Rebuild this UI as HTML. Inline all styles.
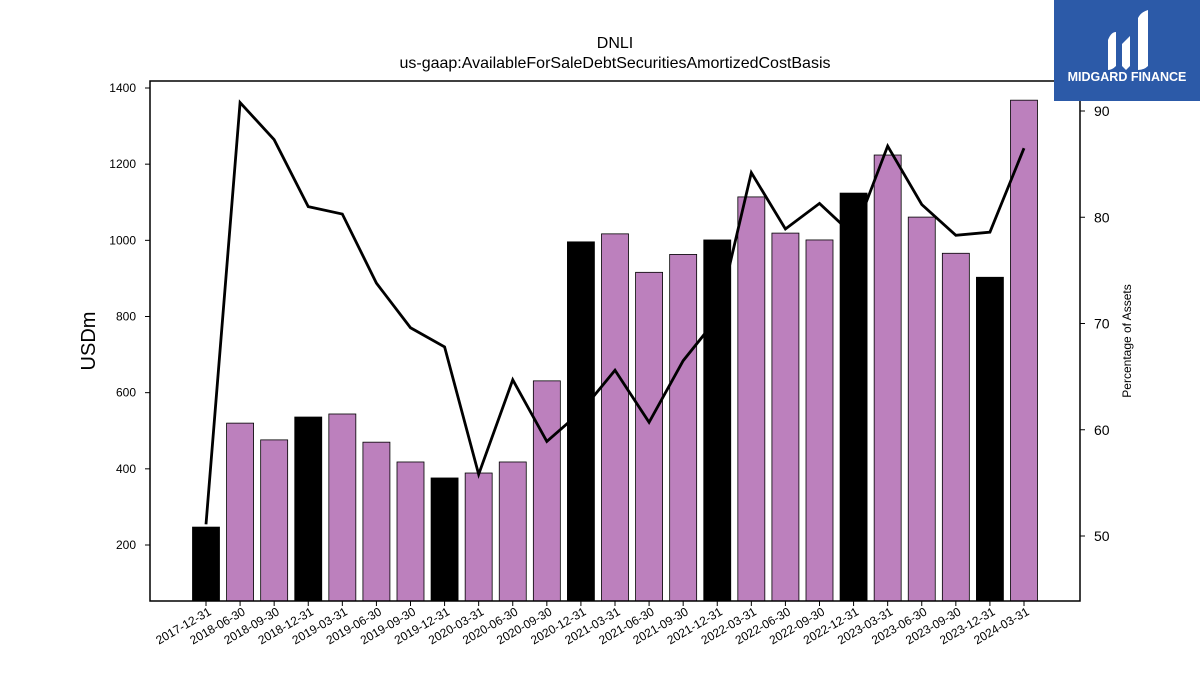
<!DOCTYPE html>
<html><head><meta charset="utf-8"><style>
body{margin:0;background:#fff;width:1200px;height:675px;overflow:hidden;font-family:"Liberation Sans",sans-serif;}
svg{display:block}
</style></head><body>
<svg id="chart" width="1200" height="675" xmlns="http://www.w3.org/2000/svg">
<text x="615" y="48" font-size="16" text-anchor="middle">DNLI</text>
<text x="615" y="68" font-size="16" text-anchor="middle">us-gaap:AvailableForSaleDebtSecuritiesAmortizedCostBasis</text>
<g id="bars"></g>
<g id="line"></g>
<rect x="150" y="81" width="930" height="520" fill="none" stroke="#000" stroke-width="1.5"/>
<g id="axes"></g>
<text transform="translate(95,341) rotate(-90)" font-size="20" text-anchor="middle">USDm</text>
<text transform="translate(1131,341) rotate(-90)" font-size="12" text-anchor="middle">Percentage of Assets</text>
<g>
<rect x="1054" y="0" width="146" height="101" fill="#2c5aa8"/>
<path d="M1108 40 q3-8 8-8 v34 q-4 4-8 4z M1122 44 l8-8 v30 l-4 4 l-4-4z M1138 18 q3-6 10-8 v56 q-4 4-10 4z" fill="#fff"/>
<text x="1127" y="81" font-size="12.5" font-weight="bold" fill="#fff" text-anchor="middle">MIDGARD FINANCE</text>
</g>
</svg>
<script>
const categories=["2017-12-31","2018-06-30","2018-09-30","2018-12-31","2019-03-31","2019-06-30","2019-09-30","2019-12-31","2020-03-31","2020-06-30","2020-09-30","2020-12-31","2021-03-31","2021-06-30","2021-09-30","2021-12-31","2022-03-31","2022-06-30","2022-09-30","2022-12-31","2023-03-31","2023-06-30","2023-09-30","2023-12-31","2024-03-31"];
const barValues=[247,520,476,536,544,470,418,376,389,418,631,996,1017,916,963,1001,1114,1019,1001,1124,1224,1061,966,903,1368];
const pctValues=[51.1,90.8,87.3,81.0,80.3,73.8,69.6,67.8,55.8,64.7,58.9,61.7,65.6,60.7,66.5,70.5,84.2,78.9,81.3,78.3,86.7,81.2,78.3,78.6,86.5];
const leftTicks=[200,400,600,800,1000,1200,1400];
const rightTicks=[50,60,70,80,90];
const NS="http://www.w3.org/2000/svg";
function mk(t,a,p){const e=document.createElementNS(NS,t);for(const k in a)e.setAttribute(k,a[k]);p.appendChild(e);return e;}
const yL=v=>545-(v-200)*(457/1200);
const yR=v=>536-(v-50)*10.625;
const xC=i=>206+i*(818/(categories.length-1));
const bars=document.getElementById('bars'),line=document.getElementById('line'),axes=document.getElementById('axes');
categories.forEach((c,i)=>{
  const black=c.endsWith('12-31');
  const top=yL(barValues[i]);
  const r=mk('rect',{x:xC(i)-13.5,y:top,width:27,height:601-top,fill:black?'#000':'#bc80bd',stroke:'#000','stroke-width':0.8},bars);
  
  
  mk('line',{x1:xC(i),x2:xC(i),y1:601,y2:606,stroke:'#000'},axes);
  const t=mk('text',{transform:`translate(${xC(i)+6},${614}) rotate(-30)`,'font-size':12,'text-anchor':'end'},axes);
  t.textContent=c;
  
  
});
const pts=pctValues.map((v,i)=>xC(i)+','+yR(v)).join(' ');
const pl=mk('polyline',{points:pts,fill:'none',stroke:'#000','stroke-width':2.8},line);


leftTicks.forEach(v=>{
  mk('line',{x1:145,x2:150,y1:yL(v),y2:yL(v),stroke:'#000'},axes);
  const t=mk('text',{x:136,y:yL(v)+4,'font-size':12,'text-anchor':'end'},axes);
  t.textContent=v;
  
  
});
rightTicks.forEach(v=>{
  mk('line',{x1:1080,x2:1085,y1:yR(v),y2:yR(v),stroke:'#000'},axes);
  const t=mk('text',{x:1094,y:yR(v)+5,'font-size':14},axes);
  t.textContent=v;
  
  
});
</script>
</body></html>
